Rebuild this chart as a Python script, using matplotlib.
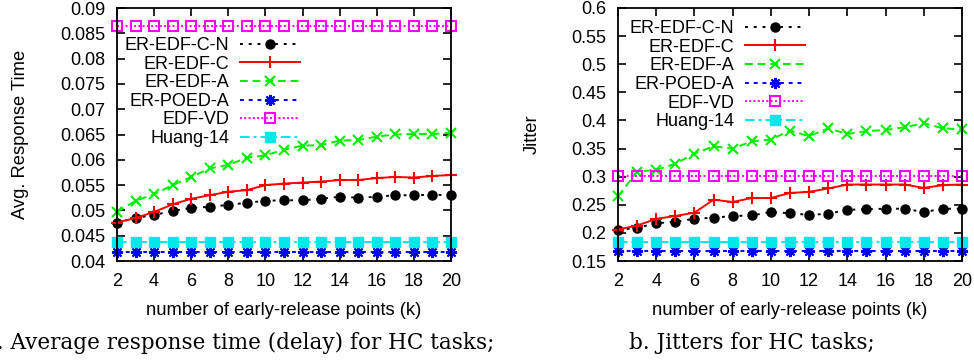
import numpy as np
import matplotlib
matplotlib.use("Agg")
import matplotlib.pyplot as plt

plt.rcParams["font.family"] = ["Liberation Sans", "DejaVu Sans"]

k = list(range(2, 21))
labels = ["ER-EDF-C-N", "ER-EDF-C", "ER-EDF-A", "ER-POED-A", "EDF-VD", "Huang-14"]

# average response time
resp_edf_c_n = [0.0476, 0.0485, 0.0491, 0.0499, 0.0505, 0.0507, 0.0511, 0.0515, 0.0519, 0.0520,
                0.0520, 0.0523, 0.0527, 0.0525, 0.0527, 0.0530, 0.0530, 0.0531, 0.0530]
resp_edf_c = [0.0476, 0.0485, 0.0497, 0.0512, 0.0523, 0.0530, 0.0537, 0.0540, 0.0550, 0.0553,
              0.0555, 0.0557, 0.0560, 0.0560, 0.0564, 0.0566, 0.0565, 0.0568, 0.0570]
resp_edf_a = [0.0497, 0.0519, 0.0532, 0.0550, 0.0566, 0.0583, 0.0590, 0.0604, 0.0609, 0.0620,
              0.0628, 0.0629, 0.0638, 0.0639, 0.0646, 0.0650, 0.0651, 0.0651, 0.0653]
resp_poed_a = [0.0418] * 19
resp_edf_vd = [0.0864] * 19
resp_huang = [0.0437] * 19

# jitter
jit_edf_c_n = [0.205, 0.209, 0.217, 0.220, 0.225, 0.227, 0.230, 0.231, 0.237, 0.235,
               0.232, 0.234, 0.241, 0.242, 0.243, 0.243, 0.237, 0.243, 0.243]
jit_edf_c = [0.206, 0.213, 0.225, 0.230, 0.236, 0.259, 0.255, 0.262, 0.262, 0.271,
             0.273, 0.279, 0.286, 0.286, 0.286, 0.286, 0.280, 0.285, 0.286]
jit_edf_a = [0.265, 0.309, 0.312, 0.323, 0.341, 0.354, 0.350, 0.363, 0.366, 0.382,
             0.372, 0.386, 0.376, 0.381, 0.383, 0.388, 0.395, 0.386, 0.384]
jit_poed_a = [0.168] * 19
jit_edf_vd = [0.302] * 19
jit_huang = [0.184] * 19

styles = [
    dict(color="black", marker="o", ms=6.5, mfc="black", dashes=(1.5, 3)),
    dict(color="#ff0000", marker="+", ms=9, mew=1.5, ls="-"),
    dict(color="#00ee00", marker="x", ms=7, mew=1.5, dashes=(4, 2.5)),
    dict(color="#0000ff", marker=(8, 2, 0), ms=8, mew=1.5, dashes=(2, 2.5)),
    dict(color="#ff00ff", marker="s", ms=7, mfc="none", mew=1.5, dashes=(1, 1.2)),
    dict(color="#00e8e8", marker="s", ms=7, mfc="#00e8e8", dashes=(5, 2, 1.5, 2)),
]


def draw_panel(ax, series, ylim, yticks, ylabel, leg_anchor):
    for vals, lab, st in zip(series, labels, styles):
        ax.plot(k, vals, label=lab, lw=1.4, clip_on=False, **st)
    ax.set_xlim(2, 20)
    ax.set_ylim(*ylim)
    ax.set_xticks(range(2, 21, 2))
    ax.set_yticks(yticks)
    ax.set_yticklabels([f"{t:g}" for t in yticks])
    ax.tick_params(direction="in", length=6, width=1.2, top=True, right=True,
                   labelsize=13, pad=8.5)
    for sp in ax.spines.values():
        sp.set_linewidth(1.3)
    ax.set_xlabel("number of early-release points (k)", fontsize=13.2, labelpad=9)
    ax.set_ylabel(ylabel, fontsize=13.2, labelpad=22)
    ax.legend(loc="upper right", bbox_to_anchor=leg_anchor, frameon=False,
              markerfirst=False, fontsize=13, handlelength=3.3, handletextpad=0.6,
              labelspacing=0.09, borderpad=0, borderaxespad=0)


fig = plt.figure(figsize=(9.74, 3.62), dpi=100)
ax1 = fig.add_axes([117 / 974, 101 / 362, 334 / 974, 253 / 362])
ax2 = fig.add_axes([618 / 974, 101 / 362, 344 / 974, 253 / 362])

draw_panel(ax1, [resp_edf_c_n, resp_edf_c, resp_edf_a, resp_poed_a, resp_edf_vd, resp_huang],
           (0.04, 0.09), np.arange(0.04, 0.0901, 0.005), "Avg. Response Time",
           ((300 - 117) / 334, (261 - 37) / 253))
draw_panel(ax2, [jit_edf_c_n, jit_edf_c, jit_edf_a, jit_poed_a, jit_edf_vd, jit_huang],
           (0.15, 0.6), np.arange(0.15, 0.601, 0.05), "Jitter",
           ((805 - 618) / 344, (261 - 20) / 253))

cap_a = fig.text(494 / 974, 1 - 343 / 362, "a. Average response time (delay) for HC tasks;",
                 family="DejaVu Serif", fontsize=12.5, va="center", ha="right")
cap_b = fig.text(629 / 974, 1 - 343 / 362, "b. Jitters for HC tasks;",
                 family="DejaVu Serif", fontsize=12.5, va="center", ha="left")

# scale caption font so "b. ..." spans ~249 px like the original
renderer = fig.canvas.get_renderer()
w = cap_b.get_window_extent(renderer).width
size = 12.5 * 246 / w
cap_a.set_fontsize(size)
cap_b.set_fontsize(size)

fig.savefig("out.png", dpi=100)
